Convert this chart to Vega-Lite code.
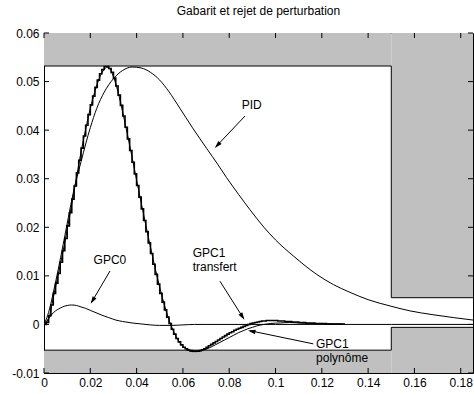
{
  "$schema": "https://vega.github.io/schema/vega-lite/v6.json",
  "width": 429,
  "height": 340,
  "autosize": {"type": "none"},
  "padding": {"left": 44, "top": 33, "right": 1, "bottom": 21},
  "background": "white",
  "title": {"text": "Gabarit et rejet de perturbation", "fontSize": 12, "fontWeight": "normal", "font": "Liberation Sans", "color": "#000", "offset": 9, "anchor": "middle"},
  "config": {
    "view": {"stroke": "#000", "strokeWidth": 1},
    "font": "Liberation Sans",
    "axis": {"domainColor": "#000", "tickColor": "#000", "labelColor": "#000", "labelFontSize": 12, "labelFont": "Liberation Sans", "grid": false, "title": null, "labelFlush": false, "labelOverlap": false, "labelBound": false, "zindex": 1}
  },
  "datasets": {
    "gab": [
      {"x": 0, "x2": 0.15, "y": 0.0532, "y2": 0.06},
      {"x": 0.15, "x2": 0.1853, "y": 0.0055, "y2": 0.06},
      {"x": 0, "x2": 0.15, "y": -0.01, "y2": -0.0053},
      {"x": 0.15, "x2": 0.1853, "y": -0.01, "y2": -0.0006}
    ],
    "edge": [
      {"g": "up", "i": 0, "x": 0, "y": 0.0532},
      {"g": "up", "i": 1, "x": 0.15, "y": 0.0532},
      {"g": "up", "i": 2, "x": 0.15, "y": 0.0055},
      {"g": "up", "i": 3, "x": 0.1853, "y": 0.0055},
      {"g": "lo", "i": 0, "x": 0, "y": -0.0053},
      {"g": "lo", "i": 1, "x": 0.15, "y": -0.0053},
      {"g": "lo", "i": 2, "x": 0.15, "y": -0.0006},
      {"g": "lo", "i": 3, "x": 0.1853, "y": -0.0006}
    ],
    "xt": [{"v": 0}, {"v": 0.02}, {"v": 0.04}, {"v": 0.06}, {"v": 0.08}, {"v": 0.1}, {"v": 0.12}, {"v": 0.14}, {"v": 0.16}, {"v": 0.18}],
    "yt": [{"v": -0.01}, {"v": 0}, {"v": 0.01}, {"v": 0.02}, {"v": 0.03}, {"v": 0.04}, {"v": 0.05}, {"v": 0.06}],
    "pid": [
      {"x": 0, "y": 0}, {"x": 0.002, "y": 0.0025}, {"x": 0.004, "y": 0.0065}, {"x": 0.006, "y": 0.011},
      {"x": 0.0083, "y": 0.0165}, {"x": 0.0105, "y": 0.022}, {"x": 0.0127, "y": 0.0272}, {"x": 0.016, "y": 0.0335},
      {"x": 0.02, "y": 0.0405}, {"x": 0.0228, "y": 0.0445}, {"x": 0.026, "y": 0.0478}, {"x": 0.03, "y": 0.0506},
      {"x": 0.034, "y": 0.0523}, {"x": 0.038, "y": 0.053}, {"x": 0.042, "y": 0.0528}, {"x": 0.046, "y": 0.0519},
      {"x": 0.05, "y": 0.0503}, {"x": 0.054, "y": 0.0479}, {"x": 0.0587, "y": 0.0445}, {"x": 0.064, "y": 0.0406},
      {"x": 0.0703, "y": 0.0362}, {"x": 0.075, "y": 0.033}, {"x": 0.0789, "y": 0.0302}, {"x": 0.084, "y": 0.0268},
      {"x": 0.089, "y": 0.0236}, {"x": 0.095, "y": 0.02}, {"x": 0.1, "y": 0.0174}, {"x": 0.1077, "y": 0.0141},
      {"x": 0.1178, "y": 0.0103}, {"x": 0.125, "y": 0.0082}, {"x": 0.1322, "y": 0.0066}, {"x": 0.14, "y": 0.0051},
      {"x": 0.1495, "y": 0.0038}, {"x": 0.158, "y": 0.0028}, {"x": 0.168, "y": 0.002}, {"x": 0.177, "y": 0.0014},
      {"x": 0.1853, "y": 0.0009}
    ],
    "gpc0": [
      {"x": 0, "y": 0}, {"x": 0.002, "y": 0.0012}, {"x": 0.004, "y": 0.0024}, {"x": 0.006, "y": 0.0031},
      {"x": 0.008, "y": 0.0036}, {"x": 0.01, "y": 0.0039}, {"x": 0.012, "y": 0.004}, {"x": 0.014, "y": 0.0039},
      {"x": 0.016, "y": 0.0036}, {"x": 0.018, "y": 0.0033}, {"x": 0.02, "y": 0.0029}, {"x": 0.022, "y": 0.0025},
      {"x": 0.025, "y": 0.0019}, {"x": 0.028, "y": 0.0014}, {"x": 0.031, "y": 0.0009}, {"x": 0.034, "y": 0.0006},
      {"x": 0.038, "y": 0.0003}, {"x": 0.042, "y": 0.0001}, {"x": 0.046, "y": -0.0001}, {"x": 0.05, "y": -0.0002},
      {"x": 0.055, "y": -0.0002}, {"x": 0.06, "y": -0.0001}, {"x": 0.065, "y": 0}, {"x": 0.07, "y": 0},
      {"x": 0.1, "y": 0}, {"x": 0.15, "y": 0}, {"x": 0.1853, "y": 0}
    ],
    "gpc1p": [
      {"x": 0, "y": 0}, {"x": 0.002, "y": 0.0012}, {"x": 0.004, "y": 0.0055}, {"x": 0.006, "y": 0.01},
      {"x": 0.008, "y": 0.0145}, {"x": 0.01, "y": 0.0195}, {"x": 0.012, "y": 0.0248}, {"x": 0.014, "y": 0.0302},
      {"x": 0.016, "y": 0.0355}, {"x": 0.018, "y": 0.0402}, {"x": 0.02, "y": 0.0445}, {"x": 0.022, "y": 0.048},
      {"x": 0.024, "y": 0.0508}, {"x": 0.026, "y": 0.0525}, {"x": 0.027, "y": 0.0529}, {"x": 0.028, "y": 0.0528},
      {"x": 0.03, "y": 0.051}, {"x": 0.032, "y": 0.0478}, {"x": 0.034, "y": 0.0437}, {"x": 0.036, "y": 0.0392},
      {"x": 0.038, "y": 0.0345}, {"x": 0.04, "y": 0.0297}, {"x": 0.042, "y": 0.025}, {"x": 0.044, "y": 0.0204},
      {"x": 0.046, "y": 0.0159}, {"x": 0.048, "y": 0.0116}, {"x": 0.05, "y": 0.0076}, {"x": 0.052, "y": 0.004},
      {"x": 0.054, "y": 0.0009}, {"x": 0.056, "y": -0.0015}, {"x": 0.058, "y": -0.0033}, {"x": 0.06, "y": -0.0045},
      {"x": 0.062, "y": -0.0052}, {"x": 0.064, "y": -0.0056}, {"x": 0.066, "y": -0.0056}, {"x": 0.068, "y": -0.0054},
      {"x": 0.07, "y": -0.0051}, {"x": 0.072, "y": -0.0047}, {"x": 0.074, "y": -0.0042}, {"x": 0.076, "y": -0.0037},
      {"x": 0.078, "y": -0.0032}, {"x": 0.08, "y": -0.0027}, {"x": 0.082, "y": -0.0022}, {"x": 0.084, "y": -0.0017},
      {"x": 0.086, "y": -0.0013}, {"x": 0.088, "y": -0.0009}, {"x": 0.09, "y": -0.0006}, {"x": 0.092, "y": -0.0003},
      {"x": 0.095, "y": 0}, {"x": 0.098, "y": 0.0002}, {"x": 0.102, "y": 0.0003}, {"x": 0.106, "y": 0.0004},
      {"x": 0.11, "y": 0.0003}, {"x": 0.115, "y": 0.0002}, {"x": 0.12, "y": 0.0002}, {"x": 0.125, "y": 0.0001},
      {"x": 0.129, "y": 0.0001}
    ],
    "gpc1t": [
      {"x": 0.000, "y": 0}, {"x": 0.001, "y": 0.0004}, {"x": 0.002, "y": 0.0018}, {"x": 0.003, "y": 0.004},
      {"x": 0.004, "y": 0.0064}, {"x": 0.005, "y": 0.0085}, {"x": 0.006, "y": 0.0105}, {"x": 0.007, "y": 0.0128},
      {"x": 0.008, "y": 0.0152}, {"x": 0.009, "y": 0.0177}, {"x": 0.010, "y": 0.0203}, {"x": 0.011, "y": 0.023},
      {"x": 0.012, "y": 0.0258}, {"x": 0.013, "y": 0.0285}, {"x": 0.014, "y": 0.0312}, {"x": 0.015, "y": 0.0338},
      {"x": 0.016, "y": 0.0363}, {"x": 0.017, "y": 0.0388}, {"x": 0.018, "y": 0.041}, {"x": 0.019, "y": 0.0432},
      {"x": 0.020, "y": 0.0452}, {"x": 0.021, "y": 0.047}, {"x": 0.022, "y": 0.0488}, {"x": 0.023, "y": 0.0503},
      {"x": 0.024, "y": 0.0516}, {"x": 0.025, "y": 0.0525}, {"x": 0.026, "y": 0.0531}, {"x": 0.027, "y": 0.0531},
      {"x": 0.028, "y": 0.0527}, {"x": 0.029, "y": 0.0519}, {"x": 0.030, "y": 0.0507}, {"x": 0.031, "y": 0.0491},
      {"x": 0.032, "y": 0.0472}, {"x": 0.033, "y": 0.0451}, {"x": 0.034, "y": 0.0429}, {"x": 0.035, "y": 0.0406},
      {"x": 0.036, "y": 0.0382}, {"x": 0.037, "y": 0.0358}, {"x": 0.038, "y": 0.0334}, {"x": 0.039, "y": 0.031},
      {"x": 0.040, "y": 0.0286}, {"x": 0.041, "y": 0.0262}, {"x": 0.042, "y": 0.0238}, {"x": 0.043, "y": 0.0214},
      {"x": 0.044, "y": 0.0191}, {"x": 0.045, "y": 0.0168}, {"x": 0.046, "y": 0.0146}, {"x": 0.047, "y": 0.0124},
      {"x": 0.048, "y": 0.0103}, {"x": 0.049, "y": 0.0083}, {"x": 0.050, "y": 0.0064}, {"x": 0.051, "y": 0.0046},
      {"x": 0.052, "y": 0.003}, {"x": 0.053, "y": 0.0015}, {"x": 0.054, "y": 0.0002}, {"x": 0.055, "y": -0.001},
      {"x": 0.056, "y": -0.002}, {"x": 0.057, "y": -0.0029}, {"x": 0.058, "y": -0.0036}, {"x": 0.059, "y": -0.0042},
      {"x": 0.060, "y": -0.0047}, {"x": 0.061, "y": -0.005}, {"x": 0.062, "y": -0.0053}, {"x": 0.063, "y": -0.0054},
      {"x": 0.064, "y": -0.0055}, {"x": 0.065, "y": -0.0055}, {"x": 0.066, "y": -0.0055}, {"x": 0.067, "y": -0.0054},
      {"x": 0.068, "y": -0.0052}, {"x": 0.069, "y": -0.005}, {"x": 0.070, "y": -0.0047}, {"x": 0.071, "y": -0.0044},
      {"x": 0.072, "y": -0.0041}, {"x": 0.073, "y": -0.0038}, {"x": 0.074, "y": -0.0035}, {"x": 0.075, "y": -0.0032},
      {"x": 0.076, "y": -0.0029}, {"x": 0.077, "y": -0.0026}, {"x": 0.078, "y": -0.0023}, {"x": 0.079, "y": -0.002},
      {"x": 0.080, "y": -0.0017}, {"x": 0.081, "y": -0.0015}, {"x": 0.082, "y": -0.0012}, {"x": 0.083, "y": -0.001},
      {"x": 0.084, "y": -0.0008}, {"x": 0.085, "y": -0.0006}, {"x": 0.086, "y": -0.0004}, {"x": 0.087, "y": -0.0002},
      {"x": 0.088, "y": 0}, {"x": 0.089, "y": 0.0002}, {"x": 0.090, "y": 0.0003}, {"x": 0.091, "y": 0.0004},
      {"x": 0.092, "y": 0.0005}, {"x": 0.093, "y": 0.0006}, {"x": 0.094, "y": 0.0007}, {"x": 0.095, "y": 0.0007},
      {"x": 0.096, "y": 0.0008}, {"x": 0.097, "y": 0.0008}, {"x": 0.098, "y": 0.0008}, {"x": 0.099, "y": 0.0008},
      {"x": 0.100, "y": 0.0008}, {"x": 0.101, "y": 0.0007}, {"x": 0.102, "y": 0.0007}, {"x": 0.103, "y": 0.0007},
      {"x": 0.104, "y": 0.0006}, {"x": 0.105, "y": 0.0006}, {"x": 0.106, "y": 0.0006}, {"x": 0.107, "y": 0.0005},
      {"x": 0.108, "y": 0.0005}, {"x": 0.109, "y": 0.0005}, {"x": 0.110, "y": 0.0004}, {"x": 0.111, "y": 0.0004},
      {"x": 0.112, "y": 0.0004}, {"x": 0.113, "y": 0.0003}, {"x": 0.114, "y": 0.0003}, {"x": 0.115, "y": 0.0003},
      {"x": 0.116, "y": 0.0003}, {"x": 0.117, "y": 0.0002}, {"x": 0.118, "y": 0.0002}, {"x": 0.119, "y": 0.0002},
      {"x": 0.120, "y": 0.0002}, {"x": 0.121, "y": 0.0002}, {"x": 0.122, "y": 0.0001}, {"x": 0.123, "y": 0.0001},
      {"x": 0.124, "y": 0.0001}, {"x": 0.125, "y": 0.0001}, {"x": 0.126, "y": 0.0001}, {"x": 0.127, "y": 0.0001},
      {"x": 0.128, "y": 0.0001}, {"x": 0.129, "y": 0.0001}, {"x": 0.130, "y": 0.0001}
    ],
    "arrows": [
      {"k": "PID", "x": 0.0868, "y": 0.0429, "x2": 0.0745, "y2": 0.0367},
      {"k": "GPC0", "x": 0.0285, "y": 0.011, "x2": 0.0206, "y2": 0.0046},
      {"k": "GPC1t", "x": 0.076, "y": 0.0089, "x2": 0.0861, "y2": 0.0013},
      {"k": "GPC1p", "x": 0.1163, "y": -0.004, "x2": 0.089, "y2": -0.0013}
    ],
    "heads": [
      {"k": "PID", "x": 0.0749, "y": 0.0369},
      {"k": "GPC0", "x": 0.021, "y": 0.0049},
      {"k": "GPC1t", "x": 0.0857, "y": 0.0016},
      {"k": "GPC1p", "x": 0.0897, "y": -0.0014}
    ],
    "labels": [
      {"t": "PID", "x": 0.0854, "y": 0.0451},
      {"t": "GPC0", "x": 0.0214, "y": 0.0132},
      {"t": "GPC1", "x": 0.0642, "y": 0.0148},
      {"t": "transfert", "x": 0.0642, "y": 0.0119},
      {"t": "GPC1", "x": 0.1175, "y": -0.0041},
      {"t": "polynôme", "x": 0.1175, "y": -0.007}
    ]
  },
  "encoding": {
    "x": {"type": "quantitative", "scale": {"domain": [0, 0.1853], "nice": false, "zero": false},
      "axis": {"orient": "bottom", "values": [0, 0.02, 0.04, 0.06, 0.08, 0.1, 0.12, 0.14, 0.16, 0.18], "labelExpr": "'' + round(datum.value*100)/100", "ticks": false, "labelPadding": 4, "domain": false}},
    "y": {"type": "quantitative", "scale": {"domain": [-0.01, 0.06], "nice": false, "zero": false},
      "axis": {"orient": "left", "values": [-0.01, 0, 0.01, 0.02, 0.03, 0.04, 0.05, 0.06], "labelExpr": "'' + round(datum.value*100)/100", "ticks": false, "labelPadding": 5, "domain": false}}
  },
  "layer": [
    {
      "data": {"name": "gab"},
      "mark": {"type": "rect", "fill": "#c0c0c0", "stroke": null},
      "encoding": {
        "x": {"field": "x", "type": "quantitative"},
        "x2": {"field": "x2"},
        "y": {"field": "y", "type": "quantitative"},
        "y2": {"field": "y2"}
      }
    },
    {
      "data": {"name": "edge"},
      "mark": {"type": "line", "color": "#000", "strokeWidth": 1},
      "encoding": {
        "x": {"field": "x", "type": "quantitative"},
        "y": {"field": "y", "type": "quantitative"},
        "detail": {"field": "g"},
        "order": {"field": "i", "type": "quantitative"}
      }
    },
    {
      "data": {"name": "xt"},
      "mark": {"type": "tick", "orient": "vertical", "size": 5, "thickness": 1, "color": "#000", "opacity": 1, "yOffset": -2.5},
      "encoding": {
        "x": {"field": "v", "type": "quantitative"},
        "y": {"datum": -0.01, "type": "quantitative"}
      }
    },
    {
      "data": {"name": "xt"},
      "mark": {"type": "tick", "orient": "vertical", "size": 5, "thickness": 1, "color": "#000", "opacity": 1, "yOffset": 2.5},
      "encoding": {
        "x": {"field": "v", "type": "quantitative"},
        "y": {"datum": 0.06, "type": "quantitative"}
      }
    },
    {
      "data": {"name": "yt"},
      "mark": {"type": "tick", "orient": "horizontal", "size": 5, "thickness": 1, "color": "#000", "opacity": 1, "xOffset": 2.5},
      "encoding": {
        "y": {"field": "v", "type": "quantitative"},
        "x": {"datum": 0, "type": "quantitative"}
      }
    },
    {
      "data": {"name": "yt"},
      "mark": {"type": "tick", "orient": "horizontal", "size": 5, "thickness": 1, "color": "#000", "opacity": 1, "xOffset": -2.5},
      "encoding": {
        "y": {"field": "v", "type": "quantitative"},
        "x": {"datum": 0.1853, "type": "quantitative"}
      }
    },
    {
      "data": {"name": "pid"},
      "mark": {"type": "line", "color": "#000", "strokeWidth": 1, "interpolate": "monotone", "clip": true},
      "encoding": {
        "x": {"field": "x", "type": "quantitative"},
        "y": {"field": "y", "type": "quantitative"}
      }
    },
    {
      "data": {"name": "gpc0"},
      "mark": {"type": "line", "color": "#000", "strokeWidth": 1, "interpolate": "monotone", "clip": true},
      "encoding": {
        "x": {"field": "x", "type": "quantitative"},
        "y": {"field": "y", "type": "quantitative"}
      }
    },
    {
      "data": {"name": "gpc1p"},
      "mark": {"type": "line", "color": "#000", "strokeWidth": 1, "interpolate": "monotone", "clip": true},
      "encoding": {
        "x": {"field": "x", "type": "quantitative"},
        "y": {"field": "y", "type": "quantitative"}
      }
    },
    {
      "data": {"name": "gpc1t"},
      "mark": {"type": "line", "color": "#000", "strokeWidth": 1.6, "interpolate": "step-after", "clip": true},
      "encoding": {
        "x": {"field": "x", "type": "quantitative"},
        "y": {"field": "y", "type": "quantitative"}
      }
    },
    {
      "data": {"name": "arrows"},
      "mark": {"type": "rule", "color": "#000", "strokeWidth": 1},
      "encoding": {
        "x": {"field": "x", "type": "quantitative"},
        "y": {"field": "y", "type": "quantitative"},
        "x2": {"field": "x2"},
        "y2": {"field": "y2"}
      }
    },
    {
      "data": {"name": "heads"},
      "transform": [{"filter": "datum.k == 'PID'"}],
      "mark": {"type": "point", "shape": "M0,-1L0.6,1L-0.6,1Z", "filled": true, "color": "#000", "opacity": 1, "size": 56, "angle": 223.5},
      "encoding": {
        "x": {"field": "x", "type": "quantitative"},
        "y": {"field": "y", "type": "quantitative"}
      }
    },
    {
      "data": {"name": "heads"},
      "transform": [{"filter": "datum.k == 'GPC0'"}],
      "mark": {"type": "point", "shape": "M0,-1L0.6,1L-0.6,1Z", "filled": true, "color": "#000", "opacity": 1, "size": 56, "angle": 211},
      "encoding": {
        "x": {"field": "x", "type": "quantitative"},
        "y": {"field": "y", "type": "quantitative"}
      }
    },
    {
      "data": {"name": "heads"},
      "transform": [{"filter": "datum.k == 'GPC1t'"}],
      "mark": {"type": "point", "shape": "M0,-1L0.6,1L-0.6,1Z", "filled": true, "color": "#000", "opacity": 1, "size": 56, "angle": 147.6},
      "encoding": {
        "x": {"field": "x", "type": "quantitative"},
        "y": {"field": "y", "type": "quantitative"}
      }
    },
    {
      "data": {"name": "heads"},
      "transform": [{"filter": "datum.k == 'GPC1p'"}],
      "mark": {"type": "point", "shape": "M0,-1L0.6,1L-0.6,1Z", "filled": true, "color": "#000", "opacity": 1, "size": 56, "angle": 281.6},
      "encoding": {
        "x": {"field": "x", "type": "quantitative"},
        "y": {"field": "y", "type": "quantitative"}
      }
    },
    {
      "data": {"name": "labels"},
      "mark": {"type": "text", "align": "left", "baseline": "middle", "font": "Liberation Sans", "fontSize": 12, "color": "#000"},
      "encoding": {
        "x": {"field": "x", "type": "quantitative"},
        "y": {"field": "y", "type": "quantitative"},
        "text": {"field": "t"}
      }
    }
  ]
}
